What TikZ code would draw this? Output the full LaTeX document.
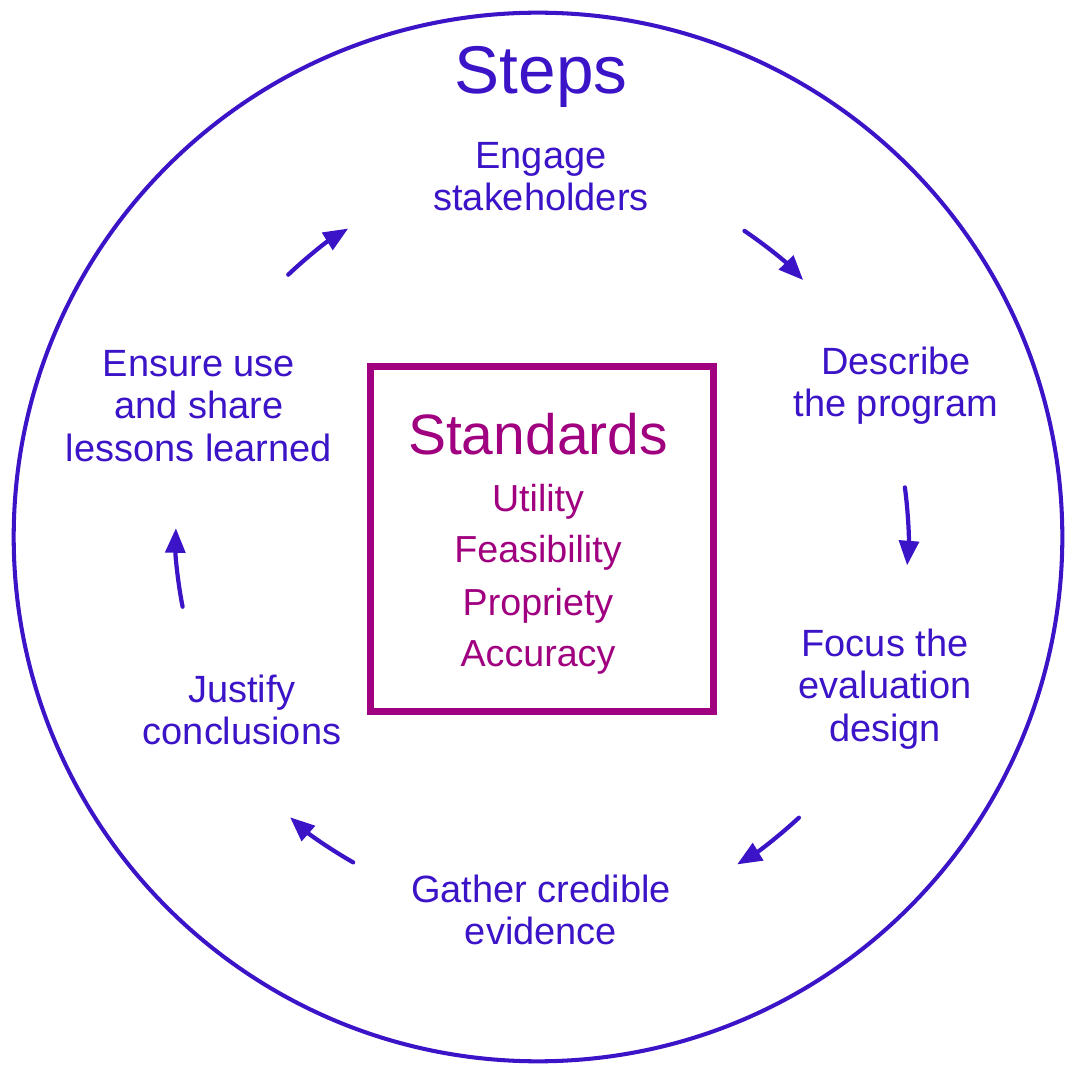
\documentclass[tikz,border=0pt]{standalone}
\usepackage{fontspec}
\setmainfont{Liberation Sans}
\usetikzlibrary{arrows.meta}
\definecolor{stepblue}{RGB}{60,20,200}
\definecolor{stdpurple}{RGB}{160,0,128}
\tikzset{
  steplabel/.style={text=stepblue, align=center, inner sep=0pt, font=\fontsize{10.8}{12}\selectfont},
  stditem/.style={text=stdpurple, inner sep=0pt, font=\fontsize{10.7}{12}\selectfont},
  cyclearrow/.style={draw=stepblue, line width=1.2pt, line cap=round, -{Triangle[length=7pt,width=5.6pt]}},
}

\begin{document}
\begin{tikzpicture}[x=0.01cm,y=-0.01cm]
  \useasboundingbox (0,0) rectangle (1064,1065);
  \coordinate (c) at (538,537);
  \draw[stepblue, line width=1.15pt] (c) circle[radius=5.24cm];

  \node[text=stepblue, inner sep=0pt, font=\fontsize{19.2}{22}\selectfont] (steps) at (541,77) {Steps};

  % the six steps round the cycle
  \node[steplabel] (engage)   at (541,177) {Engage\\stakeholders};
  \node[steplabel] (describe) at (896,386) {Describe\\the program};
  \node[steplabel] (focus)    at (885,689) {Focus the\\evaluation\\design};
  \node[steplabel] (gather)   at (541,910) {Gather credible\\evidence};
  \node[steplabel] (justify)  at (242,710) {Justify\\conclusions};
  \node[steplabel] (ensure)   at (199,406) {Ensure use\\and share\\lessons learned};

  % standards box
  \node[draw=stdpurple, line width=2pt, minimum width=3.43cm, minimum height=3.45cm] (stdbox) at (542,539) {};
  \node[text=stdpurple, inner sep=0pt, font=\fontsize{16.2}{19}\selectfont] (standards) at (538,434) {Standards};
  \node[stditem] (utility)     at (538,502) {Utility};
  \node[stditem] (feasibility) at (538,553) {Feasibility};
  \node[stditem] (propriety)   at (538,606) {Propriety};
  \node[stditem] (accuracy)    at (538,657) {Accuracy};

  % arrows between the steps
  \foreach \a/\b/\r in {133.6/121.6/3.62, 56/44.1/3.69, 7.7/-4.4/3.70,
                        -47.1/-58.7/3.83, 240.4/228.5/3.74, 191.1/178.6/3.62}
    \draw[cyclearrow] ([shift={(\a:\r cm)}]c) arc[start angle=\a, end angle=\b, radius=\r cm];
\end{tikzpicture}
\end{document}
